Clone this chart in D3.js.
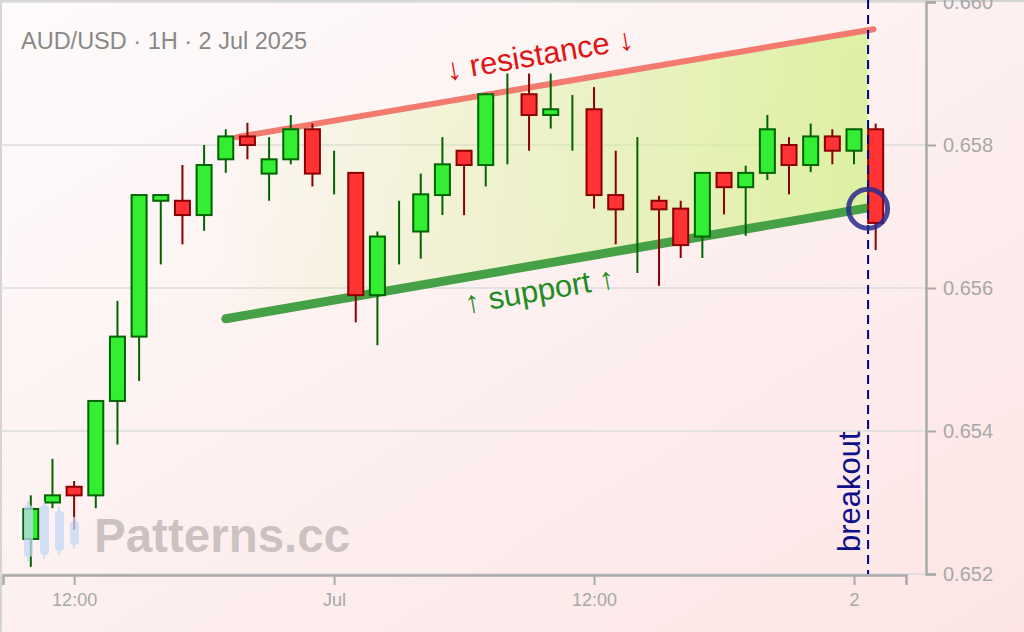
<!DOCTYPE html>
<html>
<head>
<meta charset="utf-8">
<script src="https://cdn.jsdelivr.net/npm/d3@7"></script>
<style>
  body { margin: 0; background: #fff; }
  svg { display: block; font-family: "Liberation Sans", Arial, sans-serif; }
</style>
</head>
<body>
<svg id="chart" width="1024" height="632"></svg>
<script>
// hourly candles, AUD/USD 1H
const hours = [
  "2025-06-30T10:00Z", "2025-06-30T11:00Z", "2025-06-30T12:00Z", "2025-06-30T13:00Z",
  "2025-06-30T14:00Z", "2025-06-30T15:00Z", "2025-06-30T16:00Z", "2025-06-30T17:00Z",
  "2025-06-30T18:00Z", "2025-06-30T19:00Z", "2025-06-30T20:00Z", "2025-06-30T21:00Z",
  "2025-06-30T22:00Z", "2025-06-30T23:00Z", "2025-07-01T00:00Z", "2025-07-01T01:00Z",
  "2025-07-01T02:00Z", "2025-07-01T03:00Z", "2025-07-01T04:00Z", "2025-07-01T05:00Z",
  "2025-07-01T06:00Z", "2025-07-01T07:00Z", "2025-07-01T08:00Z", "2025-07-01T09:00Z",
  "2025-07-01T10:00Z", "2025-07-01T11:00Z", "2025-07-01T12:00Z", "2025-07-01T13:00Z",
  "2025-07-01T14:00Z", "2025-07-01T15:00Z", "2025-07-01T16:00Z", "2025-07-01T17:00Z",
  "2025-07-01T18:00Z", "2025-07-01T19:00Z", "2025-07-01T20:00Z", "2025-07-01T21:00Z",
  "2025-07-01T22:00Z", "2025-07-01T23:00Z", "2025-07-02T00:00Z", "2025-07-02T01:00Z"
];
const opens = [
  0.65249, 0.65300, 0.65322, 0.65310, 0.65442, 0.65532, 0.65722, 0.65722, 0.65702, 0.65780,
  0.65812, 0.65760, 0.65780, 0.65822, 0.65760, 0.65761, 0.65590, 0.65675, 0.65679, 0.65730,
  0.65792, 0.65772, 0.65850, 0.65871, 0.65842, 0.65845, 0.65850, 0.65730, 0.65715, 0.65722,
  0.65711, 0.65672, 0.65761, 0.65741, 0.65761, 0.65800, 0.65772, 0.65812, 0.65792, 0.65822
];
const highs = [
  0.65310, 0.65361, 0.65330, 0.65443, 0.65582, 0.65731, 0.65731, 0.65772, 0.65800, 0.65822,
  0.65831, 0.65811, 0.65842, 0.65830, 0.65792, 0.65762, 0.65679, 0.65722, 0.65760, 0.65811,
  0.65793, 0.65872, 0.65900, 0.65900, 0.65900, 0.65870, 0.65881, 0.65792, 0.65811, 0.65729,
  0.65722, 0.65762, 0.65762, 0.65771, 0.65842, 0.65811, 0.65830, 0.65822, 0.65823, 0.65830
];
const lows = [
  0.65210, 0.65292, 0.65262, 0.65292, 0.65381, 0.65470, 0.65633, 0.65661, 0.65680, 0.65761,
  0.65780, 0.65722, 0.65773, 0.65742, 0.65731, 0.65552, 0.65520, 0.65633, 0.65641, 0.65702,
  0.65702, 0.65742, 0.65773, 0.65792, 0.65823, 0.65792, 0.65711, 0.65661, 0.65621, 0.65603,
  0.65642, 0.65642, 0.65703, 0.65673, 0.65751, 0.65731, 0.65762, 0.65773, 0.65773, 0.65653
];
const closes = [
  0.65291, 0.65310, 0.65310, 0.65442, 0.65532, 0.65730, 0.65730, 0.65702, 0.65772, 0.65812,
  0.65800, 0.65780, 0.65822, 0.65760, 0.65760, 0.65590, 0.65672, 0.65675, 0.65731, 0.65773,
  0.65772, 0.65871, 0.65850, 0.65842, 0.65850, 0.65845, 0.65730, 0.65710, 0.65715, 0.65710,
  0.65660, 0.65761, 0.65741, 0.65761, 0.65822, 0.65772, 0.65812, 0.65792, 0.65822, 0.65691
];

// channel lines
const resistanceTimes = ["2025-06-30T19:30Z", "2025-07-02T00:54Z"];
const resistancePrices = [0.65811, 0.65962];
const supportTimes = ["2025-06-30T19:00Z", "2025-07-02T00:39Z"];
const supportPrices = [0.65557, 0.65712];
const breakoutTime = "2025-07-02T00:39Z";
const breakoutPrice = 0.65711;

// axes
const xDomain = ["2025-06-30T08:43Z", "2025-07-02T02:24Z"];
const xTicks = ["2025-06-30T12:00Z", "2025-07-01T00:00Z", "2025-07-01T12:00Z", "2025-07-02T00:00Z"];
const xTickLabels = ["12:00", "Jul", "12:00", "2"];
const yTicks = [0.652, 0.654, 0.656, 0.658, 0.660];

const width = 1024, height = 632;
const plot = { left: 3, right: 906, top: 2, bottom: 574, axisX: 926 };

const svg = d3.select("#chart");
const defs = svg.append("defs");

// background
const bg = defs.append("linearGradient").attr("id", "bg")
  .attr("x1", 0).attr("y1", 0).attr("x2", 1).attr("y2", 1);
bg.append("stop").attr("offset", "0%").attr("stop-color", "#fefbfb");
bg.append("stop").attr("offset", "100%").attr("stop-color", "#fde5e5");
svg.append("rect").attr("width", width).attr("height", height).attr("fill", "url(#bg)");

// frame on left/top
svg.append("line").attr("x1", 1).attr("x2", 1).attr("y1", 0).attr("y2", height)
  .attr("stroke", "#d4d4d4").attr("stroke-width", 2);
svg.append("line").attr("x1", 0).attr("x2", width).attr("y1", 1).attr("y2", 1)
  .attr("stroke", "#d4d4d4").attr("stroke-width", 2);

const data = hours.map((h, i) => ({
  t: new Date(h), o: opens[i], h: highs[i], l: lows[i], c: closes[i]
}));

const x = d3.scaleUtc()
  .domain(xDomain.map((d) => new Date(d)))
  .range([plot.left, plot.right]);

const y = d3.scaleLinear()
  .domain([0.652, 0.660])
  .range([plot.bottom, plot.top]);

// horizontal grid
svg.append("g").selectAll("line")
  .data(yTicks)
  .enter()
  .append("line")
  .attr("x1", 0)
  .attr("x2", plot.axisX)
  .attr("y1", (d) => y(d))
  .attr("y2", (d) => y(d))
  .attr("stroke", "#dcdcdc")
  .attr("stroke-width", 1.5);

// channel fill (fades in from the left)
const resAt = d3.scaleUtc().domain(resistanceTimes.map((d) => new Date(d))).range(resistancePrices);
const supAt = d3.scaleUtc().domain(supportTimes.map((d) => new Date(d))).range(supportPrices);
const t0 = new Date(supportTimes[0]);
const t1 = new Date(breakoutTime);

const fillGrad = defs.append("linearGradient").attr("id", "channelFill")
  .attr("gradientUnits", "userSpaceOnUse")
  .attr("x1", x(t0)).attr("x2", x(t1)).attr("y1", 0).attr("y2", 0);
fillGrad.append("stop").attr("offset", "0%").attr("stop-color", "#d6f190").attr("stop-opacity", 0.03);
fillGrad.append("stop").attr("offset", "100%").attr("stop-color", "#d6f190").attr("stop-opacity", 0.8);

const channel = [
  [x(t0), y(resAt(t0))],
  [x(t1), y(resAt(t1))],
  [x(t1), y(supAt(t1))],
  [x(t0), y(supAt(t0))]
];
svg.append("path")
  .attr("d", d3.line()(channel) + "Z")
  .attr("fill", "url(#channelFill)");

// resistance and support lines
const lineGen = d3.line().x((d) => x(d[0])).y((d) => y(d[1]));
svg.append("path")
  .attr("d", lineGen(resistanceTimes.map((t, i) => [new Date(t), resistancePrices[i]])))
  .attr("fill", "none")
  .attr("stroke", "#f27a6f")
  .attr("stroke-width", 6)
  .attr("stroke-linecap", "round");

svg.append("path")
  .attr("d", lineGen(supportTimes.map((t, i) => [new Date(t), supportPrices[i]])))
  .attr("fill", "none")
  .attr("stroke", "#46a046")
  .attr("stroke-width", 9)
  .attr("stroke-linecap", "round");

// candles
const bodyW = 15;
const candles = svg.append("g").selectAll("g")
  .data(data)
  .enter()
  .append("g");

candles.append("line")
  .attr("x1", (d) => x(d.t))
  .attr("x2", (d) => x(d.t))
  .attr("y1", (d) => y(d.h))
  .attr("y2", (d) => y(d.l))
  .attr("stroke", (d) => (d.c >= d.o ? "#006400" : "#8b0000"))
  .attr("stroke-width", 2);

candles.filter((d) => d.c !== d.o)
  .append("rect")
  .attr("x", (d) => x(d.t) - bodyW / 2)
  .attr("width", bodyW)
  .attr("y", (d) => y(Math.max(d.o, d.c)))
  .attr("height", (d) => Math.abs(y(d.o) - y(d.c)))
  .attr("fill", (d) => (d.c >= d.o ? "#33ee33" : "#ff3333"))
  .attr("stroke", (d) => (d.c >= d.o ? "#006400" : "#8b0000"))
  .attr("stroke-width", 2);

// axes
const xAxis = svg.append("g")
  .attr("transform", `translate(0, ${plot.bottom + 1})`)
  .call(
    d3.axisBottom(x)
      .tickValues(xTicks.map((d) => new Date(d)))
      .tickFormat((d, i) => xTickLabels[i])
      .tickSize(10)
      .tickPadding(8)
  );
xAxis.select(".domain").attr("stroke", "#aaa").attr("stroke-width", 2.5);
xAxis.selectAll(".tick line").attr("stroke", "#aaa").attr("stroke-width", 2);
xAxis.selectAll("text")
  .attr("fill", "#a8a8a8")
  .style("font-size", "18px")
  .style("font-family", "Liberation Sans, Arial, sans-serif");

const yAxis = svg.append("g")
  .attr("transform", `translate(${plot.axisX}, 0)`)
  .call(
    d3.axisRight(y)
      .tickValues(yTicks)
      .tickFormat(d3.format(".3f"))
      .tickSize(10)
      .tickPadding(7)
  );
yAxis.select(".domain").attr("stroke", "#aaa").attr("stroke-width", 2.5);
yAxis.selectAll(".tick line").attr("stroke", "#aaa").attr("stroke-width", 2);
yAxis.selectAll("text")
  .attr("fill", "#a8a8a8")
  .style("font-size", "20px")
  .style("font-family", "Liberation Sans, Arial, sans-serif");

// breakout marker
const bx = x(t1);
svg.append("line")
  .attr("x1", bx).attr("x2", bx)
  .attr("y1", 0).attr("y2", plot.bottom)
  .attr("stroke", "#00008b")
  .attr("stroke-width", 2)
  .attr("stroke-dasharray", "9,6");

svg.append("circle")
  .attr("cx", bx)
  .attr("cy", y(breakoutPrice))
  .attr("r", 19.5)
  .attr("fill", "none")
  .attr("stroke", "#2a2a8c")
  .attr("stroke-opacity", 0.85)
  .attr("stroke-width", 5);

svg.append("text")
  .attr("transform", `translate(${bx - 8}, ${plot.bottom - 22}) rotate(-90)`)
  .attr("fill", "#10108a")
  .style("font-size", "31px")
  .text("breakout");

// channel labels, rotated along the lines
function angleOf(times, prices) {
  const dx = x(new Date(times[1])) - x(new Date(times[0]));
  const dy = y(prices[1]) - y(prices[0]);
  return (Math.atan2(dy, dx) * 180) / Math.PI;
}

const labelTime = new Date("2025-07-01T09:30Z");
svg.append("text")
  .attr("transform",
    `translate(${x(labelTime)}, ${y(resAt(labelTime)) - 29}) rotate(${angleOf(resistanceTimes, resistancePrices)})`)
  .attr("text-anchor", "middle")
  .attr("dominant-baseline", "middle")
  .attr("fill", "#e21313")
  .style("font-size", "31px")
  .text("↓ resistance ↓");

svg.append("text")
  .attr("transform",
    `translate(${x(labelTime)}, ${y(supAt(labelTime)) + 28}) rotate(${angleOf(supportTimes, supportPrices)})`)
  .attr("text-anchor", "middle")
  .attr("dominant-baseline", "middle")
  .attr("fill", "#1f8c1f")
  .style("font-size", "31px")
  .text("↑ support ↑");

// title
svg.append("text")
  .attr("x", 21)
  .attr("y", 49)
  .attr("fill", "#888")
  .style("font-size", "23.5px")
  .text("AUD/USD · 1H · 2 Jul 2025");

// watermark
const wm = svg.append("g").attr("opacity", 0.75);
const icon = wm.append("g").attr("transform", "translate(24, 503)");
[[0, 2, 52], [16, 2, 50], [31, 8, 40], [46, 18, 24]].forEach(([ix, iy, ih]) => {
  icon.append("line")
    .attr("x1", ix + 4).attr("x2", ix + 4)
    .attr("y1", iy - 4).attr("y2", iy + ih + 4)
    .attr("stroke", "#c4d8f6").attr("stroke-width", 2);
  icon.append("rect")
    .attr("x", ix).attr("y", iy)
    .attr("width", 9).attr("height", ih)
    .attr("rx", 4)
    .attr("fill", "#c4d8f6");
});
wm.append("text")
  .attr("x", 94)
  .attr("y", 552)
  .attr("fill", "#bdb3b3")
  .style("font-size", "47.5px")
  .style("font-weight", "bold")
  .text("Patterns.cc");
</script>
</body>
</html>
